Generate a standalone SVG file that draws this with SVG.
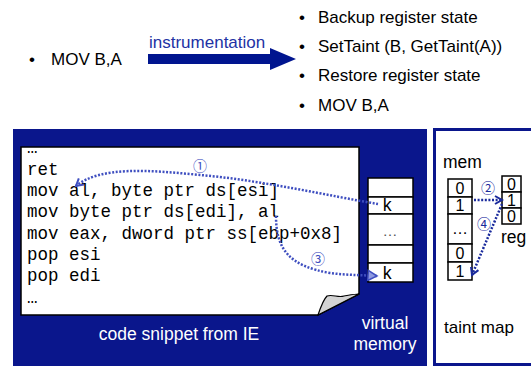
<svg xmlns="http://www.w3.org/2000/svg" width="531" height="366" viewBox="0 0 531 366">
<defs>
<style>
.sans{font-family:"Liberation Sans",Arial,sans-serif;}
.mono{font-family:"Liberation Mono","Courier New",monospace;font-size:17.5px;fill:#000;}
.lst{font-family:"Liberation Sans",Arial,sans-serif;font-size:17px;fill:#000;}
.cell{fill:#fff;stroke:#000;stroke-width:1.5;}
.dig{font-family:"Liberation Sans",Arial,sans-serif;font-size:16px;fill:#000;text-anchor:middle;}
.wt{font-family:"Liberation Sans",Arial,sans-serif;font-size:17.5px;fill:#fff;text-anchor:middle;}
.dot1{fill:none;stroke:#3f4fc0;stroke-width:2.5;stroke-dasharray:2 1.6;}
.dot2{fill:none;stroke:#1a2a9c;stroke-width:2.5;stroke-dasharray:2 1.6;}
.circ{font-family:"Noto Sans CJK JP","DejaVu Sans",sans-serif;font-size:14px;text-anchor:middle;}
</style>
<marker id="chev1" markerWidth="10" markerHeight="10" refX="8" refY="5" orient="auto" markerUnits="userSpaceOnUse">
<path d="M1,1 L8,5 L1,9" fill="none" stroke="#3f4fc0" stroke-width="2"/>
</marker>
<marker id="chev2" markerWidth="10" markerHeight="10" refX="8" refY="5" orient="auto" markerUnits="userSpaceOnUse">
<path d="M1,1 L8,5 L1,9" fill="none" stroke="#1a2a9c" stroke-width="2"/>
</marker>
<marker id="tri1" markerWidth="12" markerHeight="12" refX="10" refY="6" orient="auto" markerUnits="userSpaceOnUse">
<path d="M1,1 L10,6 L1,11 Z" fill="#8f9ae0" stroke="#3f4fc0" stroke-width="1.5"/>
</marker>
</defs>

<g id="source">
<text class="lst" x="29" y="65">•</text>
<text class="lst" x="51" y="65">MOV B,A</text>
</g>

<g id="instrumentation-arrow">
<path d="M148,54 H270 V48 L296,59 L270,70 V64 H148 Z" fill="#00158f"/>
<text class="sans" x="149" y="48" font-size="17" fill="#2232a4">instrumentation</text>
</g>

<g id="instrumented">
<text class="lst" x="299" y="23">•</text><text class="lst" x="318" y="23">Backup register state</text>
<text class="lst" x="299" y="52">•</text><text class="lst" x="318" y="52">SetTaint (B, GetTaint(A))</text>
<text class="lst" x="299" y="81">•</text><text class="lst" x="318" y="81">Restore register state</text>
<text class="lst" x="299" y="111">•</text><text class="lst" x="318" y="111">MOV B,A</text>
</g>

<g id="process-panel">
<rect x="13" y="129" width="414" height="237" fill="#0a168c"/>
</g>

<g id="code-snippet">
<path d="M21,147 H359 V294 L318,315 H21 Z" fill="#fff" stroke="#000" stroke-width="1.5"/>
<path d="M318,315 C321,306 324,299 327,296 C333,294 338,298 344,296 C350,295 355,294 359,294 Z" fill="#d4d4d4" stroke="#000" stroke-width="1.2"/>
<text class="mono" x="27" y="153">…</text>
<text class="mono" x="27" y="174.5">ret</text>
<text class="mono" x="27" y="196">mov al, byte ptr ds[esi]</text>
<text class="mono" x="27" y="217">mov byte ptr ds[edi], al</text>
<text class="mono" x="27" y="238.5">mov eax, dword ptr ss[ebp+0x8]</text>
<text class="mono" x="27" y="260">pop esi</text>
<text class="mono" x="27" y="281">pop edi</text>
<text class="mono" x="27" y="302.5">…</text>
<text class="wt" x="179" y="340">code snippet from IE</text>
</g>

<g id="virtual-memory">
<rect class="cell" x="368" y="178" width="45" height="19"/>
<rect class="cell" x="368" y="197" width="45" height="17"/>
<rect class="cell" x="368" y="214" width="45" height="31"/>
<rect class="cell" x="368" y="245" width="45" height="18"/>
<rect class="cell" x="368" y="263" width="45" height="19"/>
<text class="mono" x="382" y="211">k</text>
<text class="sans" x="390" y="236" font-size="15" fill="#555" text-anchor="middle">…</text>
<text class="mono" x="382" y="279">k</text>
<text class="wt" x="385" y="329">virtual</text>
<text class="wt" x="385" y="350">memory</text>
</g>

<g id="taint-map">
<rect x="434.5" y="129.5" width="110" height="235" fill="#fff" stroke="#0a168c" stroke-width="3"/>
<text class="sans" x="443" y="168" font-size="17.5" fill="#000">mem</text>
<rect class="cell" x="448" y="179" width="24" height="18"/>
<rect class="cell" x="448" y="197" width="24" height="17"/>
<rect class="cell" x="448" y="214" width="24" height="30"/>
<rect class="cell" x="448" y="244" width="24" height="18"/>
<rect class="cell" x="448" y="262" width="24" height="18"/>
<text class="dig" x="460" y="194">0</text>
<text class="dig" x="460" y="211">1</text>
<text class="dig" x="460" y="234">…</text>
<text class="dig" x="460" y="259">0</text>
<text class="dig" x="460" y="277">1</text>
<rect class="cell" x="502" y="176" width="19" height="16"/>
<rect class="cell" x="502" y="192" width="19" height="16"/>
<rect class="cell" x="502" y="208" width="19" height="16"/>
<text class="dig" x="511.5" y="190">0</text>
<text class="dig" x="511.5" y="206">1</text>
<text class="dig" x="511.5" y="222">0</text>
<text class="sans" x="501" y="243" font-size="17.5" fill="#000">reg</text>
<text class="sans" x="444" y="333" font-size="17" fill="#000">taint map</text>
</g>

<g id="connectors">
<path class="dot1" d="M378,204 C330,196 260,180 200,175 C150,170 100,166 76,186" marker-end="url(#chev1)"/>
<text class="circ" x="200" y="171" fill="#3f4fc0">①</text>
<path class="dot1" d="M276,216 C276,250 290,266 330,273 C345,275 360,275 377,276" marker-end="url(#tri1)"/>
<text class="circ" x="318" y="264" fill="#3f4fc0">③</text>
<path class="dot2" d="M474,200 H502" marker-end="url(#chev2)"/>
<text class="circ" x="488" y="193" fill="#1a2a9c">②</text>
<path class="dot2" d="M502,204 L472,275" marker-end="url(#chev2)"/>
<text class="circ" x="484" y="229" fill="#1a2a9c">④</text>
</g>
</svg>
